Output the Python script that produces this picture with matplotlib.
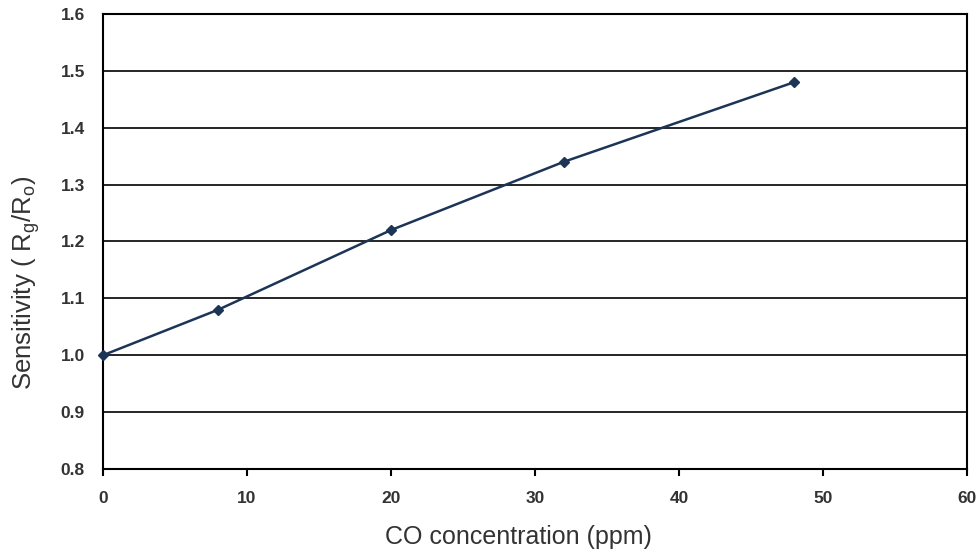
import matplotlib
matplotlib.use("Agg")
import matplotlib.pyplot as plt

plt.rcParams['font.family'] = ['Liberation Sans', 'DejaVu Sans']
plt.rcParams['mathtext.fontset'] = 'custom'
plt.rcParams['mathtext.rm'] = 'Liberation Sans'

co_ppm = [0, 8, 20, 32, 48]
sensitivity = [1.00, 1.08, 1.22, 1.34, 1.48]
x_ticks = [0, 10, 20, 30, 40, 50, 60]
y_ticks = [0.8, 0.9, 1.0, 1.1, 1.2, 1.3, 1.4, 1.5, 1.6]

fig = plt.figure(figsize=(9.79, 5.57), dpi=100)
ax = fig.add_axes([0.1052, 0.158, 0.8825, 0.817])

ax.plot(co_ppm, sensitivity, color='#1c3557', lw=1.8, marker='D', ms=5.5,
        clip_on=False, zorder=3)

ax.set_xlim(0, 60)
ax.set_ylim(0.8, 1.6)
ax.set_xticks(x_ticks)
ax.set_yticks(y_ticks)
ax.set_yticklabels(['%.1f' % v for v in y_ticks])
ax.grid(axis='y', color='black', lw=1.2)
ax.set_axisbelow(True)

for s in ax.spines.values():
    s.set_linewidth(1.5)
    s.set_color('black')

ax.tick_params(axis='x', direction='out', length=5, width=1.5, pad=11,
               labelsize=12.5, labelcolor='#333333')
ax.tick_params(axis='y', length=0, pad=13, labelsize=12.5, labelcolor='#333333')
for lab in ax.get_xticklabels() + ax.get_yticklabels():
    lab.set_fontweight('bold')

ax.set_xlabel('CO concentration (ppm)', fontsize=18, color='#333333')
ax.xaxis.set_label_coords(0.481, -0.122)
ax.set_ylabel(r'Sensitivity ( R$_\mathregular{g}$/R$_\mathregular{o}$)', fontsize=18.5,
              color='#333333')
ax.yaxis.set_label_coords(-0.071, 0.41)

fig.savefig('out.png', dpi=100)
